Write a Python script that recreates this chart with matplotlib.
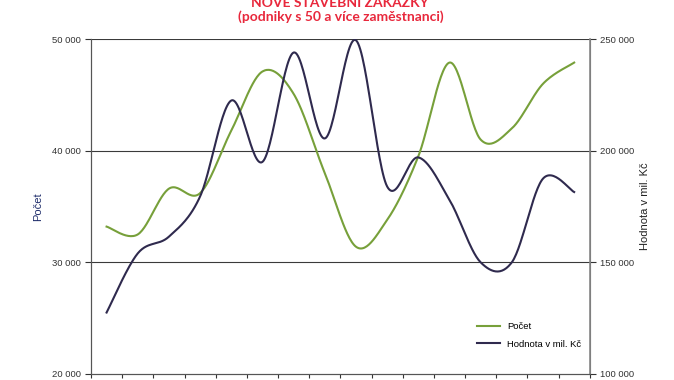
import numpy as np
import matplotlib
matplotlib.use("Agg")
import matplotlib.pyplot as plt

# 16 periods (no category labels in the reference)
periods = list(range(16))
pocet = [33200, 32500, 36600, 36200, 41800, 47100, 45100, 38000,
         31400, 33800, 39500, 47900, 41000, 42000, 46000, 47900]
hodnota = [127500, 154000, 161500, 179500, 222500, 195000, 244000, 205500,
           249500, 184000, 197000, 178000, 150000, 150000, 187500, 181500]

GREEN = "#77a03a"
NAVY = "#2f2a4e"
RED = "#e8283c"


def smooth(x, y, n=30):
    # Catmull-Rom style bezier, similar to Excel's smoothed line
    x = np.asarray(x, float)
    y = np.asarray(y, float)
    xs, ys = [], []
    for i in range(len(x) - 1):
        p0 = i - 1 if i > 0 else i
        p3 = i + 2 if i + 2 < len(x) else i + 1
        c1x = x[i] + (x[i + 1] - x[p0]) / 6
        c1y = y[i] + (y[i + 1] - y[p0]) / 6
        c2x = x[i + 1] - (x[p3] - x[i]) / 6
        c2y = y[i + 1] - (y[p3] - y[i]) / 6
        t = np.linspace(0, 1, n)
        a, b, c, d = (1 - t) ** 3, 3 * t * (1 - t) ** 2, 3 * t ** 2 * (1 - t), t ** 3
        xs.append(a * x[i] + b * c1x + c * c2x + d * x[i + 1])
        ys.append(a * y[i] + b * c1y + c * c2y + d * y[i + 1])
    return np.concatenate(xs), np.concatenate(ys)


def fmt(v, pos=None):
    return "{:,}".format(int(v)).replace(",", " ")


plt.rcParams['font.family'] = ['Liberation Sans', 'DejaVu Sans']

fig = plt.figure(figsize=(6.74, 3.8), dpi=100)
ax = fig.add_axes([0.135, 0.016, 0.74, 0.881])
ax2 = ax.twinx()

gx, gy = smooth(periods, pocet)
hx, hy = smooth(periods, hodnota)
l1, = ax.plot(gx, gy, color=GREEN, lw=1.5, label="Počet", zorder=3)
l2, = ax2.plot(hx, hy, color=NAVY, lw=1.5, label="Hodnota v mil. Kč", zorder=3)

ax.set_xlim(-0.5, 15.5)
ax.set_ylim(20000, 50000)
ax2.set_ylim(100000, 250000)
ax.set_yticks([20000, 30000, 40000, 50000])
ax2.set_yticks([100000, 150000, 200000, 250000])
ax.yaxis.set_major_formatter(matplotlib.ticker.FuncFormatter(fmt))
ax2.yaxis.set_major_formatter(matplotlib.ticker.FuncFormatter(fmt))
ax.set_xticks(np.arange(-0.5, 16, 1))
ax.set_xticklabels([])

for y in [30000, 40000, 50000]:
    ax.axhline(y, color="#3a3a3a", lw=0.8, zorder=1)

for a in (ax, ax2):
    a.tick_params(axis="y", labelsize=6.8, colors="#333333", length=4, width=0.8)
    a.tick_params(axis="x", length=3, width=0.8, colors="#333333")
    for s in a.spines.values():
        s.set_color("#555555")
        s.set_linewidth(0.8)
ax2.spines["right"].set_color("#888888")
ax2.spines["right"].set_linewidth(1.2)
ax.spines["top"].set_visible(False)
ax2.spines["top"].set_visible(False)

ax.set_ylabel("Počet", fontsize=8, color="#1f2d6b", labelpad=6)
ax2.set_ylabel("Hodnota v mil. Kč", fontsize=8, color="#222222", labelpad=4)

fig.text(0.505, 1.01, "NOVÉ STAVEBNÍ ZAKÁZKY\n(podniky s 50 a více zaměstnanci)",
         ha="center", va="top", fontsize=10, fontweight="bold", color=RED,
         family=["Lato", "DejaVu Sans"], linespacing=1.2)

leg = ax.legend(handles=[l1, l2], loc="lower right", bbox_to_anchor=(1.0, 0.05),
                frameon=False, fontsize=6.8, handlelength=2.4, labelspacing=0.9)

fig.savefig("out.png", dpi=100)
